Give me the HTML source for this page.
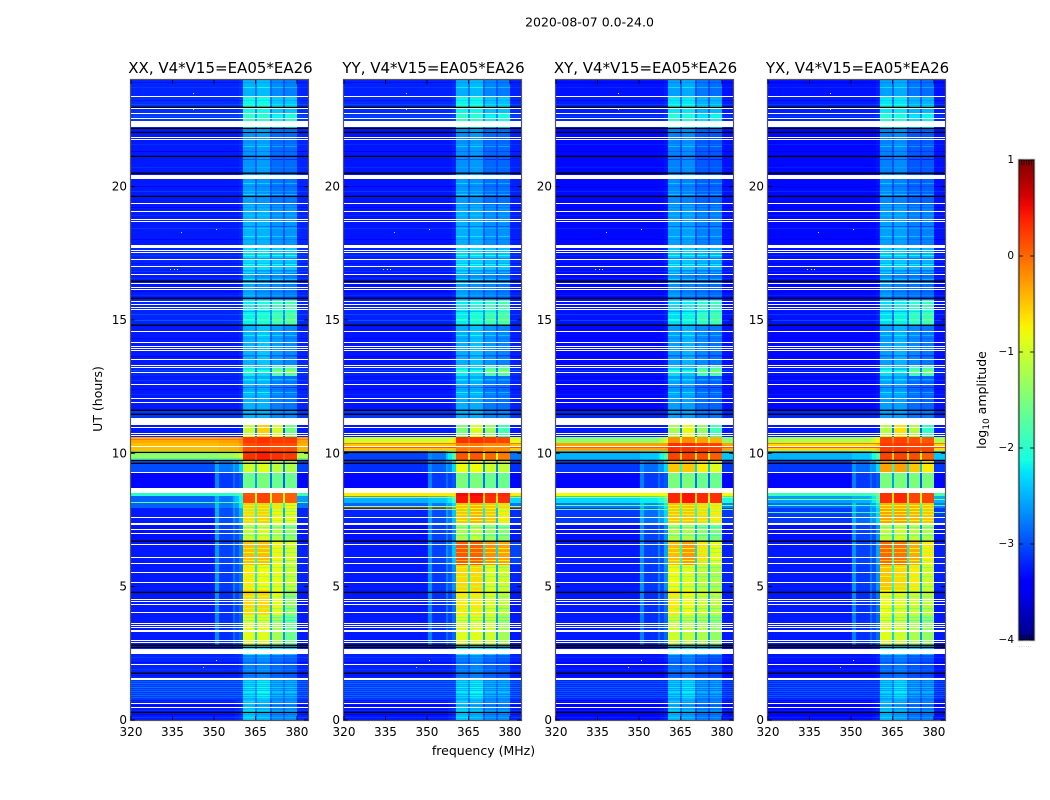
<!DOCTYPE html>
<html>
<head>
<meta charset="utf-8">
<title>2020-08-07 0.0-24.0</title>
<style>
html,body{margin:0;padding:0;background:#fff;}
svg{display:block;}
text{font-family:"DejaVu Sans","Liberation Sans",sans-serif;fill:#000;}
</style>
</head>
<body>
<svg id="figure" width="1050" height="800" viewBox="0 0 1050 800" xmlns="http://www.w3.org/2000/svg">
<defs><linearGradient id="jetGrad" x1="0" y1="1" x2="0" y2="0"></linearGradient></defs>
<text x="589.5" y="26.5" font-size="12.5" text-anchor="middle">2020-08-07 0.0-24.0</text>
<text x="483.5" y="755" font-size="12.5" text-anchor="middle">frequency (MHz)</text>
<text x="102" y="399" font-size="12.5" text-anchor="middle" transform="rotate(-90 102 399)">UT (hours)</text>
<text x="986" y="400" font-size="12.5" text-anchor="middle" transform="rotate(-90 986 400)">log<tspan font-size="9" dy="3">10</tspan><tspan dy="-3"> amplitude</tspan></text>
</svg>
<script>
// ---- categories and tick labels ----
const panelNames = ['XX', 'YY', 'XY', 'YX'];
const panelTitleSuffix = ', V4*V15=EA05*EA26';
const freqTicks = [320, 335, 350, 365, 380];
const hourTicks = [0, 5, 10, 15, 20];
const colorTicks = [1, 0, -1, -2, -3, -4];

// frequency band edges (MHz) - columns of every value row
const freqEdges = [320, 350.5, 351.8, 356.9, 357.6, 359.2, 360.4, 364.8, 365.5, 370.2, 370.9, 374.9, 375.6, 379.9, 384];

// time band edges (UT hours) - rows
const hourEdges = [0, 0.75, 1.5, 2.44, 2.81, 3.94, 4.88, 5.81, 6.71, 7.39, 7.95, 8.14, 8.40, 8.51, 8.70, 9.3, 9.75, 10.09, 10.39, 10.61, 11.06, 11.63, 12.9, 13.31, 14.81, 15.75, 16.88, 17.81, 19.31, 20.44, 22.2, 22.76, 23.4, 24];

// log10 amplitude, quiet hours below the active period (shared)
const quietLow = [
[-3.3,-3.3,-3.3,-3.3,-3.25,-3.2,-2.45,-2.85,-2.55,-3.0,-2.75,-3.0,-2.75,-3.25],
[-3.15,-3.15,-3.15,-3.15,-3.15,-3.15,-2.55,-2.8,-2.45,-2.85,-2.75,-2.95,-2.75,-3.15],
[-3.25,-3.25,-3.25,-3.25,-3.25,-3.2,-2.8,-3.0,-2.75,-3.0,-2.9,-3.05,-2.95,-3.25],
[-3.25,-3.25,-3.25,-3.25,-3.15,-3.15,-2.25,-2.8,-2.25,-2.85,-2.35,-2.85,-2.45,-3.25]
];

// log10 amplitude, quiet hours above the active period (shared)
const quietHigh = [
[-3.15,-3.15,-3.15,-3.15,-3.15,-3.15,-2.55,-2.9,-2.55,-2.95,-2.75,-3.0,-2.75,-3.15],
[-3.3,-3.3,-3.3,-3.3,-3.3,-3.25,-2.55,-2.9,-2.55,-2.95,-2.8,-3.0,-2.85,-3.25],
[-3.25,-3.25,-3.25,-3.25,-3.25,-3.2,-2.25,-2.8,-2.35,-2.85,-1.85,-2.75,-1.75,-3.2],
[-3.3,-3.3,-3.3,-3.3,-3.3,-3.25,-2.55,-2.9,-2.45,-2.95,-2.65,-3.0,-2.75,-3.25],
[-3.25,-3.25,-3.25,-3.25,-3.25,-3.2,-2.25,-2.8,-2.15,-2.7,-1.95,-2.7,-1.85,-3.25],
[-3.3,-3.3,-3.3,-3.3,-3.3,-3.25,-2.6,-2.95,-2.7,-3.0,-2.75,-3.0,-2.8,-3.25],
[-3.25,-3.25,-3.25,-3.25,-3.25,-3.2,-2.35,-2.8,-2.35,-2.85,-2.45,-2.85,-2.45,-3.2],
[-3.3,-3.3,-3.3,-3.3,-3.3,-3.25,-2.55,-2.9,-2.55,-2.95,-2.7,-3.0,-2.7,-3.25],
[-3.3,-3.3,-3.3,-3.3,-3.3,-3.25,-2.65,-2.95,-2.7,-3.0,-2.85,-3.05,-2.85,-3.25],
[-3.3,-3.3,-3.3,-3.3,-3.3,-3.25,-2.7,-2.95,-2.65,-3.0,-2.9,-3.05,-2.9,-3.25],
[-3.15,-3.15,-3.15,-3.15,-3.15,-3.1,-2.0,-2.65,-2.05,-2.75,-2.25,-2.75,-2.15,-3.15],
[-3.2,-3.2,-3.2,-3.2,-3.2,-3.15,-2.2,-2.75,-2.2,-2.85,-2.45,-2.85,-2.45,-3.2],
[-3.25,-3.25,-3.25,-3.25,-3.25,-3.2,-2.55,-2.85,-2.5,-2.95,-2.75,-3.0,-2.8,-3.25]
];

// small brightness differences between the polarisations in the quiet hours
const quietOffsets = [0.05, 0.03, -0.04, -0.04];

// log10 amplitude, active hours 2.81-11.06, one matrix per polarisation
const activeXX = [
[-3.25,-2.7,-3.15,-2.85,-3.05,-2.9,-.9,-2.3,-.9,-2.5,-1.25,-2.6,-1.6,-3.25],
[-3.25,-2.65,-3.15,-2.8,-3.05,-2.85,-.6,-2.2,-.6,-2.4,-.85,-2.5,-1.35,-3.25],
[-3.25,-2.6,-3.1,-2.75,-3.0,-2.8,-.7,-2.2,-.8,-2.4,-.85,-2.5,-1.05,-3.2],
[-3.25,-2.6,-3.05,-2.75,-3.0,-2.7,-.45,-2.1,-.45,-2.4,-.75,-2.5,-.95,-3.2],
[-3.3,-2.6,-3.05,-2.8,-3.0,-2.75,-1.05,-2.2,-.95,-2.4,-1.15,-2.5,-1.35,-3.25],
[-3.25,-2.5,-3.0,-2.65,-2.85,-2.5,-.6,-2,-.55,-2.3,-.75,-2.5,-.85,-3.2],
[-2.9,-2.4,-2.8,-2.5,-2.6,-2.2,-.55,-1.8,-.55,-2,-.65,-2.1,-.75,-2.8],
[-2.9,-2.5,-2.8,-2.5,-2.4,-2.1,.15,-.9,.2,-1,.05,-1,.05,-2.6],
[-2.0,-2.0,-2.0,-2.0,-1.9,-1.8,.1,-.9,.2,-1,.05,-1,.05,-1.9],
[-1.8,-1.8,-1.8,-1.8,-1.8,-1.8,-.5,-1,-.5,-1,-.5,-1,-.5,-1.8],
[-3.35,-2.7,-3.1,-2.85,-3.05,-2.95,-1.6,-2.6,-1.5,-2.8,-1.6,-2.9,-1.6,-3.35],
[-3.0,-2.55,-2.8,-2.55,-2.7,-2.3,-1,-2.4,-.9,-2.6,-1.1,-2.7,-1.2,-3.05],
[-1.4,-1.4,-1.3,-1.3,-1.2,-1,.3,.1,.4,.1,.3,.1,.25,-1.2],
[-.45,-.45,-.4,-.4,-.4,-.3,.15,.1,.2,.1,.15,.1,.15,-.4],
[-.35,-.35,-.3,-.3,-.3,-.2,.25,.15,.3,.15,.25,.15,.25,-.3],
[-3.25,-3.25,-3.25,-3.25,-3.25,-3.2,-1.05,-2.7,-.55,-2.7,-.95,-2.9,-1.55,-3.25]
];
const activeYY = [
[-3.25,-2.75,-3.15,-2.85,-3.05,-2.85,-.9,-2.3,-.9,-2.5,-1,-2.6,-1.25,-3.25],
[-3.25,-2.7,-3.15,-2.8,-3.05,-2.8,-.7,-2.2,-.7,-2.4,-.9,-2.5,-1.1,-3.25],
[-3.25,-2.65,-3.1,-2.75,-2.95,-2.65,-.6,-2.2,-.6,-2.4,-.9,-2.5,-1,-3.2],
[-3.25,-2.65,-3.05,-2.65,-2.85,-2.4,.1,-1.9,.05,-2.2,-.2,-2.3,-.3,-3.05],
[-3.3,-2.65,-3.05,-2.75,-3.0,-2.65,-1.2,-2.3,-1.1,-2.5,-1.3,-2.6,-1.4,-3.25],
[-3.2,-2.6,-3.0,-2.6,-2.8,-2.4,-.5,-1.9,-.4,-2.2,-.5,-2.4,-.7,-3.15],
[-2.9,-2.5,-2.8,-2.5,-2.6,-2.3,-.5,-1.5,-.4,-1.7,-.5,-1.8,-.6,-2.8],
[-2.5,-2.4,-2.4,-2.3,-2.2,-1.9,.45,-.6,.45,-.7,.3,-.7,.3,-2.3],
[-.7,-.7,-.7,-.7,-.7,-.7,.5,-.4,.5,-.5,.35,-.5,.35,-.7],
[-1.8,-1.8,-1.8,-1.8,-1.8,-1.8,-.5,-1,-.5,-1,-.5,-1,-.5,-1.8],
[-3.35,-2.75,-3.1,-2.85,-3.05,-2.95,-1.5,-2.6,-1.5,-2.8,-1.6,-2.9,-1.6,-3.35],
[-3.15,-2.7,-2.9,-2.6,-2.7,-2.3,-.8,-2.4,-.8,-2.6,-1,-2.7,-1.1,-3.15],
[-3.05,-2.7,-2.8,-2.4,-2.2,-1.8,.1,-.7,.1,-.8,0,-.9,-.1,-2.8],
[-.5,-.5,-.5,-.5,-.5,-.5,-.1,-.2,-.1,-.2,-.2,-.2,-.2,-.5],
[-1,-1,-1,-1,-.9,-.7,.3,.1,.3,.1,.25,.1,.2,-.9],
[-3.25,-3.25,-3.25,-3.25,-3.25,-3.2,-1.5,-2.8,-.95,-2.8,-1.35,-2.9,-1.85,-3.25]
];
const activeXY = [
[-3.25,-2.75,-3.15,-2.85,-3.05,-2.85,-1,-2.3,-1.1,-2.5,-1.2,-2.6,-1.35,-3.25],
[-3.25,-2.7,-3.15,-2.8,-3.05,-2.8,-.7,-2.2,-.8,-2.4,-1,-2.5,-1.1,-3.25],
[-3.25,-2.65,-3.1,-2.75,-3.0,-2.65,-.8,-2.2,-.9,-2.4,-1.1,-2.5,-1.2,-3.2],
[-3.25,-2.65,-3.05,-2.75,-3.0,-2.55,-.45,-2.1,-.25,-2.3,-.65,-2.4,-.85,-3.2],
[-3.3,-2.65,-3.05,-2.8,-3.0,-2.65,-1.2,-2.3,-1.2,-2.5,-1.4,-2.6,-1.5,-3.25],
[-3.1,-2.5,-2.85,-2.5,-2.65,-2.3,-.5,-1.9,-.5,-2.1,-.6,-2.3,-.7,-3.1],
[-2.8,-2.4,-2.7,-2.5,-2.5,-2.2,-.5,-1.5,-.5,-1.7,-.6,-1.8,-.7,-2.7],
[-2.3,-2.2,-2.2,-2.1,-2.0,-1.7,.35,-.6,.45,-.7,.35,-.8,.3,-2.1],
[-.8,-.8,-.8,-.8,-.8,-.8,.35,-.5,.45,-.6,.35,-.7,.3,-.8],
[-1.8,-1.8,-1.8,-1.8,-1.8,-1.8,-.5,-1,-.5,-1,-.5,-1,-.5,-1.8],
[-3.35,-2.75,-3.1,-2.85,-3.05,-2.95,-1.5,-2.6,-1.5,-2.8,-1.6,-2.9,-1.6,-3.35],
[-3.1,-2.65,-2.85,-2.6,-2.65,-2.3,-.5,-2.1,-.5,-2.3,-.7,-2.4,-.9,-3.1],
[-2.5,-2.4,-2.4,-2.3,-2.1,-1.8,.2,-.6,.2,-.7,.15,-.8,.05,-2.4],
[-.3,-.3,-.3,-.3,-.3,-.3,.3,.1,.3,.1,.25,.1,.2,-.3],
[-1.4,-1.4,-1.4,-1.3,-1.2,-1,-.2,-.9,-.2,-1,-.3,-1.1,-.4,-1.4],
[-3.25,-3.25,-3.25,-3.25,-3.25,-3.2,-1.25,-2.7,-.85,-2.7,-1.35,-2.9,-1.85,-3.25]
];
const activeYX = [
[-3.25,-2.75,-3.15,-2.85,-3.05,-2.85,-.9,-2.3,-1,-2.5,-1.2,-2.6,-1.35,-3.25],
[-3.25,-2.7,-3.15,-2.8,-3.05,-2.8,-.8,-2.2,-.9,-2.4,-1,-2.5,-1.1,-3.25],
[-3.25,-2.65,-3.1,-2.75,-3.0,-2.65,-.5,-2.1,-.6,-2.4,-.7,-2.5,-1,-3.2],
[-3.25,-2.65,-3.05,-2.75,-3.0,-2.55,0,-1.9,-.05,-2.2,-.35,-2.3,-.7,-3.2],
[-3.3,-2.65,-3.05,-2.8,-3.0,-2.65,-1.1,-2.3,-1,-2.5,-1.1,-2.6,-1.2,-3.25],
[-3.1,-2.5,-2.85,-2.5,-2.65,-2.3,-.3,-1.8,-.3,-2.1,-.4,-2.2,-.5,-3.1],
[-2.85,-2.4,-2.75,-2.5,-2.55,-2.2,-.4,-1.5,-.4,-1.7,-.4,-1.8,-.5,-2.75],
[-2.6,-2.5,-2.5,-2.4,-2.2,-1.8,.3,-.7,.35,-.8,.2,-.9,.2,-2.5],
[-1.9,-1.9,-1.9,-1.9,-1.8,-1.6,.3,-.7,.35,-.8,.2,-.9,.2,-1.8],
[-1.8,-1.8,-1.8,-1.8,-1.8,-1.8,-.5,-1,-.5,-1,-.5,-1,-.5,-1.8],
[-3.35,-2.75,-3.1,-2.85,-3.05,-2.95,-1.5,-2.6,-1.5,-2.8,-1.5,-2.9,-1.5,-3.35],
[-3.1,-2.65,-2.85,-2.6,-2.65,-2.3,-.3,-2.1,-.3,-2.3,-.5,-2.4,-.7,-3.1],
[-2.5,-2.4,-2.4,-2.3,-2.1,-1.8,.2,-.6,.2,-.7,.15,-.8,.05,-2.4],
[-.6,-.6,-.6,-.6,-.6,-.5,.25,.1,.25,.1,.2,.1,.2,-.6],
[-1.2,-1.2,-1.2,-1.1,-1,-.8,.2,-.2,.2,-.3,.15,-.4,.1,-1.2],
[-3.25,-3.25,-3.25,-3.25,-3.25,-3.2,-1.15,-2.7,-.65,-2.7,-1.15,-2.9,-1.95,-3.25]
];
const activeByPanel = [activeXX, activeYY, activeXY, activeYX];

// single scans that differ across the whole band (UT hours) and by how much
const rippleHours = [0.08,0.19,0.34,0.53,0.68,0.83,0.90,0.98,1.05,1.13,1.20,1.28,1.35,1.43,1.65,1.88,2.15,2.33,12.2,12.38,12.7,13.08,13.6,14.0,14.3,14.95,15.2,15.9,16.05,16.55,16.8,17.1,17.4,18.0,18.4,18.9,19.2,19.8,20.0,20.7,21.3,21.55,22.3,22.6,23.05,23.2,23.7,23.9];
const rippleAmounts = [.15,-.1,.1,-.15,.1,.2,.25,.15,.25,.2,.3,.15,.25,.2,-.1,.1,-.15,.1,.1,-.1,.15,.2,-.15,.1,-.1,.25,.2,.1,-.1,.1,.15,-.1,.1,-.1,.15,.1,-.1,.15,-.1,.1,-.15,.1,.2,.1,.15,-.1,.1,-.1];

// scans that dip or rise in the four live sub-bands (UT hours)
const dipHours = [8.03,7.91,7.80,7.69,7.46,7.20,6.90,6.41,6.26,5.96,5.70,5.36,4.99,4.61,4.16,3.83,3.71,12.25,12.45,12.75,13.05,13.65,14.4,15.0,15.3,16.5,16.75,17.05,17.3,17.4,18.1,18.5,19.7,20.1,21.0,21.5,22.05,23.0,23.7,1.0,1.2,0.3];
const dipAmounts = [-.5,-.4,-.5,-.4,-.4,-.5,-.4,-.5,-.4,-.5,-.4,-.4,-.5,-.4,-.5,-.4,-.5,.35,-.3,.3,.45,-.3,.3,.35,-.3,.35,.3,.3,-.3,.4,.3,-.3,.3,.3,-.3,.3,.3,.35,.3,.3,.35,.3];

// full-width bright scans per polarisation: start hour and log10 amplitude
const lineHoursXX = [8.14, 10.5, 9.8];
const lineValuesXX = [-1.7, -.1, -1.9];
const lineHoursYY = [8.33, 7.88, 7.99, 10.35, 10.2];
const lineValuesYY = [-.6, -.6, -.7, -.1, .1];
const lineHoursXY = [8.33, 8.03, 7.88, 10.2];
const lineValuesXY = [-1, -1.6, -1.6, .1];
const lineHoursYX = [8.25, 8.03, 7.77, 10.35, 10.2];
const lineValuesYX = [-1.5, -1.8, -1.8, -.1, .1];
const lineHoursByPanel = [lineHoursXX, lineHoursYY, lineHoursXY, lineHoursYX];
const lineValuesByPanel = [lineValuesXX, lineValuesYY, lineValuesXY, lineValuesYX];

// flagged data: one-scan flags (start hour), longer blocks [start, end], zero-amplitude scans
const flaggedScans = [23.36,22.91,22.73,22.54,21.83,21.75,19.35,19.05,18.75,18.68,17.59,17.51,17.25,16.99,16.69,16.35,16.20,16.13,15.68,15.56,15.45,15.38,14.55,14.14,13.99,13.91,13.84,13.50,13.28,13.20,13.01,12.56,12.04,11.89,10.95,10.73,10.65,10.24,9.26,7.58,7.13,6.98,6.56,6.08,5.85,5.51,5.14,4.50,4.43,4.31,4.01,3.60,3.53,3.45,2.96,2.89,2.06,0.60,0.45];
const flaggedBlocks = [[22.24,22.46],[20.29,20.44],[17.70,17.81],[11.06,11.33],[8.51,8.70],[7.31,7.39],[3.30,3.38],[2.48,2.66],[1.50,1.58]];
const zeroScans = [22.95,22.16,22.01,21.11,20.48,19.61,16.43,15.79,14.78,11.59,11.44,10.01,9.71,9.60,6.68,4.76,2.78,2.70,1.73,0.26];

// isolated interference spots: frequency, hour, log10 amplitude
const spotFreqs = [335.5, 336.5, 342.4, 342.4, 350.8, 350.8, 346.0, 334.0, 338.2];
const spotHours = [16.9, 16.9, 23.5, 22.9, 18.4, 2.25, 2.0, 16.9, 18.3];
const spotValues = [-1.0, -1.0, -1.2, -1.0, -1.1, -1.0, -1.5, -1.2, -1.4];

// ---- axes ----
const panelLefts = [131, 344, 556, 768];
const plotTop = 80, plotBottom = 720, plotWidth = 177;
const freqMin = 320, freqMax = 384, hourMin = 0, hourMax = 24;
const colorMin = -4, colorMax = 1;
const barLeft = 1019, barWidth = 15, barTop = 160, barBottom = 640;

function xScale(panel, mhz) {
  return panelLefts[panel] + (mhz - freqMin) / (freqMax - freqMin) * plotWidth;
}
function yScale(hour) {
  return plotBottom - (hour - hourMin) / (hourMax - hourMin) * (plotBottom - plotTop);
}
function barScale(v) {
  return barBottom - (v - colorMin) / (colorMax - colorMin) * (barBottom - barTop);
}
function ramp(t, pts) {
  for (let i = 1; i < pts.length; i++) {
    if (t <= pts[i][0]) {
      const a = pts[i - 1], b = pts[i];
      return a[1] + (b[1] - a[1]) * (t - a[0]) / (b[0] - a[0]);
    }
  }
  return pts[pts.length - 1][1];
}
function jet(v) {
  const t = Math.max(0, Math.min(1, (v - colorMin) / (colorMax - colorMin)));
  const r = ramp(t, [[0, 0], [0.35, 0], [0.66, 1], [0.89, 1], [1, 0.5]]);
  const g = ramp(t, [[0, 0], [0.125, 0], [0.375, 1], [0.64, 1], [0.91, 0], [1, 0]]);
  const b = ramp(t, [[0, 0.5], [0.11, 1], [0.34, 1], [0.65, 0], [1, 0]]);
  return 'rgb(' + Math.round(r * 255) + ',' + Math.round(g * 255) + ',' + Math.round(b * 255) + ')';
}
const svgNS = 'http://www.w3.org/2000/svg';
const fig = document.getElementById('figure');
function make(tag, attrs, parent) {
  const el = document.createElementNS(svgNS, tag);
  for (const k in attrs) el.setAttribute(k, attrs[k]);
  (parent || fig).appendChild(el);
  return el;
}
function rowValues(panel, row) {
  if (row < quietLow.length) return quietLow[row].map(function (v) { return v + quietOffsets[panel]; });
  const active = activeByPanel[panel];
  if (row < quietLow.length + active.length) return active[row - quietLow.length];
  return quietHigh[row - quietLow.length - active.length].map(function (v) { return v + quietOffsets[panel]; });
}
function rowAtHour(hour) {
  for (let i = 0; i < hourEdges.length - 1; i++) {
    if (hour >= hourEdges[i] && hour < hourEdges[i + 1]) return i;
  }
  return hourEdges.length - 2;
}
const liveBands = [6, 8, 10, 12];
const outsideBands = [0, 1, 2, 3, 4, 5, 13];
const scanHours = 0.0375;
const zeroScanHours = 0.05;

panelNames.forEach(function (name, p) {
  const g = make('g', {});
  
  

  // heatmap cells
  for (let r = 0; r < hourEdges.length - 1; r++) {
    const vals = rowValues(p, r);
    for (let c = 0; c < freqEdges.length - 1; c++) {
      const x0 = Math.round(xScale(p, freqEdges[c])), x1 = Math.round(xScale(p, freqEdges[c + 1]));
      const y0 = Math.round(yScale(hourEdges[r + 1])), y1 = Math.round(yScale(hourEdges[r]));
      const cell = make('rect', {x: x0, y: y0, width: x1 - x0, height: y1 - y0, fill: jet(vals[c]), 'shape-rendering': 'crispEdges'}, g);
      
      
    }
  }
  // single-scan brightness changes across all bands
  rippleHours.forEach(function (h, i) {
    const vals = rowValues(p, rowAtHour(h));
    for (let c = 0; c < freqEdges.length - 1; c++) {
      const x0 = Math.round(xScale(p, freqEdges[c])), x1 = Math.round(xScale(p, freqEdges[c + 1]));
      const cell = make('rect', {x: x0, y: Math.round(yScale(h + scanHours)), width: x1 - x0, height: 1, fill: jet(vals[c] + rippleAmounts[i]), 'shape-rendering': 'crispEdges'}, g);
      
      
    }
  });
  // scans changing in the live sub-bands
  dipHours.forEach(function (h, i) {
    const vals = rowValues(p, rowAtHour(h));
    liveBands.forEach(function (c) {
      const x0 = Math.round(xScale(p, freqEdges[c])), x1 = Math.round(xScale(p, freqEdges[c + 1]));
      const y0 = Math.round(yScale(h + scanHours));
      const dip = make('rect', {x: x0, y: y0, width: x1 - x0, height: 1, fill: jet(vals[c] + dipAmounts[i]), 'shape-rendering': 'crispEdges'}, g);
      
      
    });
  });
  // bright scans outside the live band
  lineHoursByPanel[p].forEach(function (h, i) {
    outsideBands.forEach(function (c) {
      const x0 = Math.round(xScale(p, freqEdges[c])), x1 = Math.round(xScale(p, freqEdges[c + 1]));
      const line = make('rect', {x: x0, y: Math.round(yScale(h + scanHours)), width: x1 - x0, height: 1, fill: jet(lineValuesByPanel[p][i]), 'shape-rendering': 'crispEdges'}, g);
      
      
    });
  });
  // interference spots
  spotFreqs.forEach(function (f, i) {
    const spot = make('rect', {x: Math.round(xScale(p, f)), y: Math.round(yScale(spotHours[i])), width: 1, height: 1, fill: jet(spotValues[i]), 'shape-rendering': 'crispEdges'}, g);
    
    
  });
  // flagged rows
  const x0 = xScale(p, freqMin), x1 = xScale(p, freqMax);
  flaggedScans.forEach(function (h) {
    const f = make('rect', {x: x0, y: Math.round(yScale(h + scanHours)), width: x1 - x0, height: 1, fill: '#fff', 'shape-rendering': 'crispEdges'}, g);
    
    
  });
  flaggedBlocks.forEach(function (b) {
    const yA = Math.round(yScale(b[1])), yB = Math.round(yScale(b[0]));
    const f = make('rect', {x: x0, y: yA, width: x1 - x0, height: yB - yA, fill: '#fff', 'shape-rendering': 'crispEdges'}, g);
    
    
  });
  zeroScans.forEach(function (h) {
    const f = make('rect', {x: x0, y: yScale(h + zeroScanHours), width: x1 - x0, height: yScale(h) - yScale(h + zeroScanHours), fill: '#000'}, g);
    
    
  });

  // frame
  const frame = make('rect', {x: x0 - 0.5, y: plotTop - 0.5, width: plotWidth + 1, height: plotBottom - plotTop + 1, fill: 'none', stroke: '#555', 'stroke-width': 1.2}, g);
  
  

  // title
  const title = make('text', {x: x0 + plotWidth / 2 + 1, y: 73, 'font-size': 15, 'text-anchor': 'middle'}, g);
  title.textContent = name + panelTitleSuffix;
  
  

  // x ticks
  freqTicks.forEach(function (f) {
    const x = xScale(p, f);
    [[plotBottom, plotBottom - 4], [plotTop, plotTop + 4]].forEach(function (e) {
      const t = make('line', {x1: x, x2: x, y1: e[0], y2: e[1], stroke: '#000', 'stroke-width': 0.8}, g);
      
      
    });
    const l = make('text', {x: x, y: 736, 'font-size': 12, 'text-anchor': 'middle'}, g);
    l.textContent = String(f);
    
    
  });
  // y ticks
  hourTicks.forEach(function (h) {
    const y = yScale(h);
    [[x0, x0 + 4], [x1, x1 - 4]].forEach(function (e) {
      const t = make('line', {x1: e[0], x2: e[1], y1: y, y2: y, stroke: '#000', 'stroke-width': 0.8}, g);
      
      
    });
    const l = make('text', {x: x0 - 4, y: y + 4, 'font-size': 12, 'text-anchor': 'end'}, g);
    l.textContent = String(h);
    
    
  });
});

// ---- colorbar ----
const grad = document.getElementById('jetGrad');
for (let i = 0; i <= 40; i++) {
  const v = colorMin + (colorMax - colorMin) * i / 40;
  make('stop', {offset: (i / 40), 'stop-color': jet(v)}, grad);
}
const barGroup = make('g', {});


const barOutline = make('rect', {x: barLeft - 0.5, y: barTop - 0.5, width: barWidth + 1, height: barBottom - barTop + 1, fill: 'none', stroke: '#bbb', 'stroke-width': 1.6}, barGroup);


const barRect = make('rect', {x: barLeft, y: barTop, width: barWidth, height: barBottom - barTop, fill: 'url(#jetGrad)', stroke: '#111', 'stroke-width': 0.9}, barGroup);


colorTicks.forEach(function (v) {
  const y = barScale(v);
  [[barLeft, barLeft + 4], [barLeft + barWidth, barLeft + barWidth - 4]].forEach(function (e) {
    const t = make('line', {x1: e[0], x2: e[1], y1: y, y2: y, stroke: '#000', 'stroke-width': 0.8}, barGroup);
    
    
  });
  const l = make('text', {x: barLeft - 5, y: y + 3, 'font-size': 10.5, 'text-anchor': 'end'}, barGroup);
  l.textContent = (v < 0 ? '\u2212' + Math.abs(v) : String(v));
  
  
});
for (let i = 1; i < 6; i++) {
  const x = barLeft + i * barWidth / 6;
  [[barTop, barTop + 5], [barBottom, barBottom - 5]].forEach(function (e) {
    const t = make('line', {x1: x, x2: x, y1: e[0], y2: e[1], stroke: '#000', 'stroke-width': 0.7}, barGroup);
    
    
  });
}
const dots = make('text', {x: barLeft + barWidth / 2 - 1, y: 647, 'font-size': 5, 'text-anchor': 'middle', 'letter-spacing': 0.6, style: 'fill:#888'}, barGroup);
dots.textContent = '......';


</script>
</body>
</html>
